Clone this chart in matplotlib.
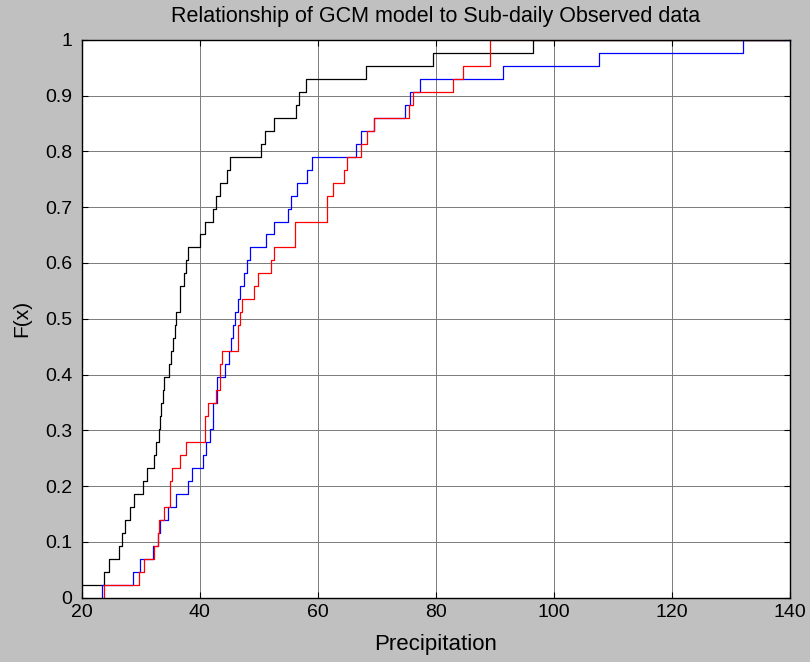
import numpy as np
import matplotlib
matplotlib.use("Agg")
import matplotlib.pyplot as plt

plt.rcParams['font.family'] = ['Liberation Sans', 'DejaVu Sans']

# sorted sample values of each series, 43 values each
black_vals = [18.0, 23.85, 24.7, 26.3, 26.9, 27.3, 28.1, 28.8, 30.4, 31.0,
              32.2, 32.5, 33.1, 33.3, 33.5, 33.8, 33.9, 34.8, 35.15, 35.5,
              35.8, 36.05, 36.6, 36.6, 37.3, 37.6, 37.97, 40.0, 40.85, 42.3,
              42.7, 43.5, 44.6, 45.1, 50.4, 51.1, 52.5, 56.3, 56.8, 58.0,
              68.1, 79.5, 96.4]
blue_vals = [23.4, 28.7, 29.8, 32.1, 32.9, 33.3, 34.6, 35.9, 37.97, 38.7,
             40.6, 41.1, 41.75, 42.2, 42.2, 42.95, 42.95, 44.25, 44.9, 45.3,
             45.6, 46.05, 46.45, 46.8, 47.5, 47.95, 48.5, 51.3, 52.5, 54.9,
             55.4, 56.4, 58.2, 59.05, 66.4, 67.35, 69.5, 74.75, 75.7, 77.3,
             91.4, 107.6, 132.0]
red_vals = [23.85, 29.7, 30.5, 32.2, 32.9, 33.05, 33.9, 34.9, 35.0, 35.3,
            36.7, 37.6, 40.85, 40.95, 41.35, 42.8, 43.4, 43.4, 43.7, 46.5,
            46.5, 46.9, 47.2, 49.2, 49.9, 52.0, 52.5, 56.1, 56.1, 61.6,
            61.6, 62.5, 64.4, 64.9, 67.35, 68.4, 69.6, 75.4, 76.2, 82.9,
            84.6, 89.1, 89.1]

x_ticks = [20, 40, 60, 80, 100, 120, 140]
y_ticks = [0, 0.1, 0.2, 0.3, 0.4, 0.5, 0.6, 0.7, 0.8, 0.9, 1]
y_tick_labels = ['0', '0.1', '0.2', '0.3', '0.4', '0.5', '0.6', '0.7', '0.8', '0.9', '1']

fig = plt.figure(figsize=(8.1, 6.62), dpi=100, facecolor='#c0c0c0')
ax = fig.add_axes([0.1009, 0.0974, 0.8744, 0.8422])


def ecdf_stairs(vals, color):
    xs = np.sort(np.asarray(vals))
    n = len(xs)
    ys = np.arange(1, n + 1) / n
    ax.step(np.r_[xs[0], xs, xs[-1] + 50], np.r_[0, ys, 1.0], where='post',
            color=color, linewidth=0.9)


ecdf_stairs(black_vals, 'black')
ecdf_stairs(blue_vals, '#0000ff')
ecdf_stairs(red_vals, '#ff0000')

ax.set_xlim(20, 140)
ax.set_ylim(0, 1)
ax.set_xticks(x_ticks)
ax.set_yticks(y_ticks)
ax.set_yticklabels(y_tick_labels)
ax.grid(True, color='#7a7a7a', linewidth=0.7)
ax.set_axisbelow(True)
ax.tick_params(direction='in', length=4, top=True, right=True, labelsize=14)
ax.tick_params(axis='x', pad=5)
ax.tick_params(axis='y', pad=7)

for s in ax.spines.values():
    s.set_linewidth(1.0)

ax.set_title('Relationship of GCM model to Sub-daily Observed data', fontsize=15.5, pad=13)
ax.set_xlabel('Precipitation', fontsize=16, labelpad=9)
ax.set_ylabel('F(x)', fontsize=15, labelpad=10)

fig.savefig('out.png', dpi=100, facecolor=fig.get_facecolor())
